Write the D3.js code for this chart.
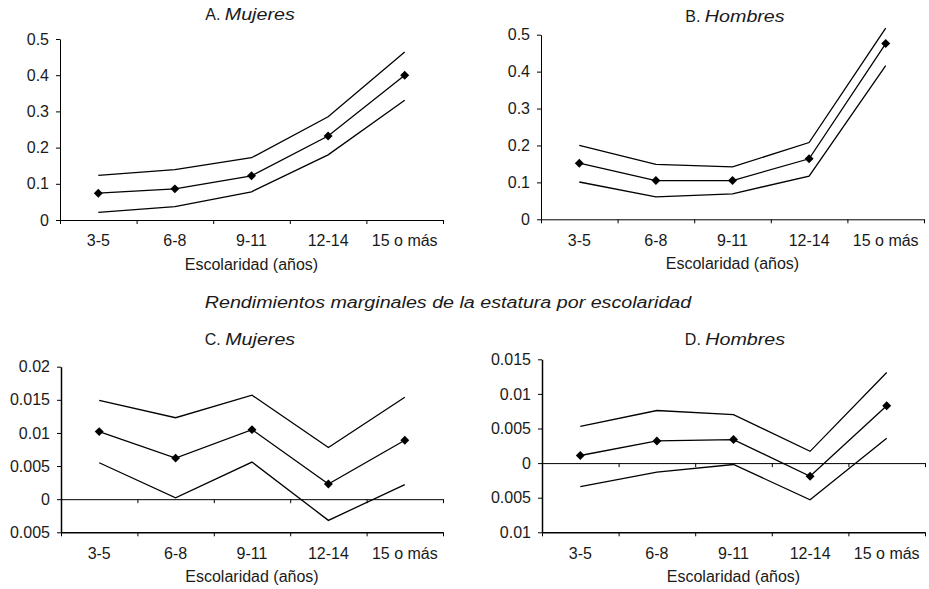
<!DOCTYPE html>
<html>
<head>
<meta charset="utf-8">
<script src="https://cdn.jsdelivr.net/npm/d3@7"></script>
<style>
  body { margin: 0; background: #fff; }
  text { font-family: "Liberation Sans", Arial, sans-serif; fill: #1a1a1a; }
</style>
</head>
<body>
<div id="chart"></div>
<script>
// categories de escolaridad
var categories = ["3-5", "6-8", "9-11", "12-14", "15 o más"];

// A. Mujeres (estimado, limite superior, limite inferior)
var aMid = [0.074, 0.086, 0.122, 0.232, 0.400];
var aHi  = [0.123, 0.139, 0.172, 0.285, 0.464];
var aLo  = [0.021, 0.037, 0.078, 0.180, 0.331];

// B. Hombres
var bMid = [0.152, 0.105, 0.105, 0.164, 0.476];
var bHi  = [0.200, 0.149, 0.142, 0.208, 0.518];
var bLo  = [0.101, 0.061, 0.069, 0.117, 0.416];

// C. Mujeres (estatura)
var cMid = [0.0102, 0.0062, 0.0105, 0.0023, 0.0089];
var cHi  = [0.0149, 0.0123, 0.0157, 0.0078, 0.0154];
var cLo  = [0.0055, 0.0002, 0.0056, -0.0032, 0.0022];

// D. Hombres (estatura)
var dMid = [0.0011, 0.0032, 0.0034, -0.0019, 0.0083];
var dHi  = [0.0053, 0.0076, 0.0070, 0.0017, 0.0131];
var dLo  = [-0.0034, -0.0013, -0.0002, -0.0053, 0.0036];

// ticks del eje y (las etiquetas negativas van sin signo, como en el original)
var abTicks = [0, 0.1, 0.2, 0.3, 0.4, 0.5];
var abTickLabels = ["0", "0.1", "0.2", "0.3", "0.4", "0.5"];
var cTicks = [-0.005, 0, 0.005, 0.01, 0.015, 0.02];
var cTickLabels = ["0.005", "0", "0.005", "0.01", "0.015", "0.02"];
var dTicks = [-0.01, -0.005, 0, 0.005, 0.01, 0.015];
var dTickLabels = ["0.01", "0.005", "0", "0.005", "0.01", "0.015"];

var width = 929, height = 589;
var fontSize = 16;
var italicScale = 1.23; // la cursiva del original es mas ancha

var svg = d3.select("#chart").append("svg")
    .attr("width", width)
    .attr("height", height);

var panels = [
  { letter: "A. ", name: "Mujeres", mid: aMid, hi: aHi, lo: aLo, ticks: abTicks, labels: abTickLabels,
    domain: [0, 0.5], x0: 60, x1: 443, yBottom: 220, yTop: 39, titleX: 250, titleY: 19.5, axisW: 1 },
  { letter: "B. ", name: "Hombres", mid: bMid, hi: bHi, lo: bLo, ticks: abTicks, labels: abTickLabels,
    domain: [0, 0.5], x0: 541, x1: 924, yBottom: 219.3, yTop: 34.7, titleX: 735, titleY: 22, axisW: 1 },
  { letter: "C. ", name: "Mujeres", mid: cMid, hi: cHi, lo: cLo, ticks: cTicks, labels: cTickLabels,
    domain: [-0.005, 0.02], x0: 61, x1: 443, yBottom: 532.3, yTop: 366.7, titleX: 250, titleY: 345, axisW: 1.5 },
  { letter: "D. ", name: "Hombres", mid: dMid, hi: dHi, lo: dLo, ticks: dTicks, labels: dTickLabels,
    domain: [-0.01, 0.015], x0: 542, x1: 925, yBottom: 532.3, yTop: 359.3, titleX: 735, titleY: 345, axisW: 1.5 }
];

panels.forEach(function(p) {
  var g = svg.append("g");

  var x = d3.scaleBand().domain(categories).range([p.x0, p.x1]);
  var xb = d3.scaleLinear().domain([0, categories.length]).range([p.x0, p.x1]); // limites de categorias
  var y = d3.scaleLinear().domain(p.domain).range([p.yBottom, p.yTop]);

  // eje y
  var yAxis = g.append("g")
      .attr("transform", "translate(" + p.x0 + ",0)")
      .call(d3.axisLeft(y).tickValues(p.ticks).tickFormat(function(d, i) { return p.labels[i]; })
        .tickSize(4).tickSizeOuter(0).tickPadding(7));
  yAxis.select(".domain").attr("stroke", "#000").attr("stroke-width", p.axisW);
  yAxis.selectAll("line").attr("stroke", "#000");
  yAxis.selectAll("text").attr("font-size", fontSize).attr("fill", "#1a1a1a");

  // lineas horizontales: abajo y en cero si hay negativos
  var levels = [p.domain[0]];
  if (p.domain[0] < 0) levels.push(0);
  levels.forEach(function(v) {
    var xa = g.append("g")
        .attr("transform", "translate(0," + y(v) + ")")
        .call(d3.axisBottom(xb).tickValues(d3.range(categories.length + 1)).tickFormat("")
          .tickSize(4).tickSizeOuter(0));
    xa.select(".domain").attr("stroke", "#000").attr("stroke-width", v === 0 && p.domain[0] < 0 ? 1 : p.axisW);
    xa.selectAll("line").attr("stroke", "#000");
  });

  // etiquetas de categorias
  var xl = g.append("g")
      .attr("transform", "translate(0," + p.yBottom + ")")
      .call(d3.axisBottom(x).tickSize(0).tickPadding(15));
  xl.select(".domain").remove();
  xl.selectAll("text").attr("font-size", fontSize).attr("fill", "#1a1a1a");

  // titulo del eje x
  g.append("text")
      .attr("x", (p.x0 + p.x1) / 2)
      .attr("y", p.yBottom + 50)
      .attr("text-anchor", "middle")
      .attr("font-size", fontSize)
      .text("Escolaridad (años)");

  // titulo del panel: letra normal + nombre en cursiva ensanchada
  var t1 = g.append("text")
      .attr("y", p.titleY)
      .attr("font-size", fontSize)
      .attr("xml:space", "preserve")
      .text(p.letter);
  var t2 = g.append("text")
      .attr("font-size", fontSize)
      .attr("font-style", "italic")
      .text(p.name);
  var w1 = t1.node().getComputedTextLength();
  var w2 = t2.node().getComputedTextLength() * italicScale;
  var start = p.titleX - (w1 + w2) / 2;
  t1.attr("x", start);
  t2.attr("transform", "translate(" + (start + w1) + "," + p.titleY + ") scale(" + italicScale + ",1)");

  var line = d3.line()
      .x(function(d, i) { return x(categories[i]) + x.bandwidth() / 2; })
      .y(function(d) { return y(d); });

  [p.hi, p.mid, p.lo].forEach(function(s) {
    g.append("path")
        .datum(s)
        .attr("fill", "none")
        .attr("stroke", "#000")
        .attr("stroke-width", 1.3)
        .attr("d", line);
  });

  // marcadores rombo
  g.selectAll(".marker")
      .data(p.mid)
    .enter().append("path")
      .attr("class", "marker")
      .attr("d", d3.symbol(d3.symbolSquare, 40))
      .attr("transform", function(d, i) {
        return "translate(" + (x(categories[i]) + x.bandwidth() / 2) + "," + y(d) + ") rotate(45)";
      })
      .attr("fill", "#000");
});

// titulo central
svg.append("text")
    .attr("transform", "translate(448,307.5) scale(" + italicScale + ",1)")
    .attr("text-anchor", "middle")
    .attr("font-size", fontSize)
    .attr("font-style", "italic")
    .text("Rendimientos marginales de la estatura por escolaridad");
</script>
</body>
</html>
